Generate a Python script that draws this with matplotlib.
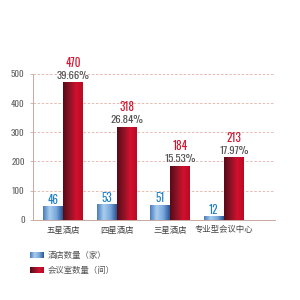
import numpy as np
import matplotlib
matplotlib.use("Agg")
import matplotlib.pyplot as plt
from matplotlib.colors import LinearSegmentedColormap

categories = ["五星酒店", "四星酒店", "三星酒店", "专业型会议中心"]
hotels = [46, 53, 51, 12]
rooms = [470, 318, 184, 213]
room_pct = ["39.66%", "26.84%", "15.53%", "17.97%"]
yticks = [0, 100, 200, 300, 400, 500]
legend_labels = ["酒店数量（家）", "会议室数量（间）"]

cjk = ["Noto Sans CJK SC", "DejaVu Sans"]
num_font = ["Oswald", "DejaVu Sans"]

blue_cmap = LinearSegmentedColormap.from_list("b", ["#4a7cbc", "#a9cdee", "#7aa8dc", "#2a5595"])
red_cmap = LinearSegmentedColormap.from_list("r", ["#5a0a18", "#8c1326", "#d2102e", "#b80a26"])

fig = plt.figure(figsize=(3, 3), dpi=100)
ax = fig.add_axes([0.11, 0.267, 0.807, 0.487])

grad = np.linspace(0, 1, 64).reshape(1, -1)
w = 0.37
x = np.arange(len(categories))
for i in range(len(categories)):
    xb = x[i] - w / 2 - 0.005
    xr = x[i] + w / 2
    ax.imshow(grad, extent=[xb - w / 2, xb + w / 2, 0, hotels[i]], aspect="auto",
              cmap=blue_cmap, zorder=3, interpolation="bilinear")
    ax.imshow(grad, extent=[xr - w / 2, xr + w / 2, 0, rooms[i]], aspect="auto",
              cmap=red_cmap, zorder=3, interpolation="bilinear")
    ax.annotate(str(hotels[i]), (xb, hotels[i]), xytext=(0, 6.5), textcoords="offset pixels",
                ha="center", va="center", color="#1f7fc4", fontsize=8, family=num_font,
                fontweight="medium", annotation_clip=False)
    ax.annotate(room_pct[i], (xr, rooms[i]), xytext=(0, 7), textcoords="offset pixels",
                ha="center", va="center", color="#555555", fontsize=7.8, family=num_font,
                fontweight="light", annotation_clip=False)
    ax.annotate(str(rooms[i]), (xr, rooms[i]), xytext=(0, 20), textcoords="offset pixels",
                ha="center", va="center", color="#d0142e", fontsize=8, family=num_font,
                fontweight="medium", annotation_clip=False)

ax.set_xlim(-0.56, 3.95)
ax.set_ylim(0, 500)
ax.set_yticks(yticks)
ax.set_yticklabels([str(v) for v in yticks], family=num_font, fontsize=6.5, color="#666666",
                   fontweight="light")
ax.set_xticks(x)
ax.set_xticklabels(categories, family=cjk, fontsize=6, color="#444444")
ax.tick_params(axis="x", length=0, pad=4)
ax.tick_params(axis="y", length=2, width=0.6, color="#c9a9a0", pad=4)
for yv in yticks[1:]:
    ax.axhline(yv, color="#e2b2aa", lw=0.6, ls=(0, (3, 2)), zorder=1)
for s in ["top", "right"]:
    ax.spines[s].set_visible(False)
for s in ["left", "bottom"]:
    ax.spines[s].set_color("#c9a9a0")
    ax.spines[s].set_linewidth(0.7)

# legend
lx, ly = 30 / 300, 1 - 255 / 300
for k, (lab, cm) in enumerate(zip(legend_labels, [blue_cmap, red_cmap])):
    y0 = ly - k * 15 / 300
    lax = fig.add_axes([lx, y0 - 3 / 300, 14 / 300, 6 / 300])
    lax.imshow(grad, aspect="auto", cmap=cm, interpolation="bilinear")
    lax.axis("off")
    fig.text(lx + 18 / 300, y0, lab, family=cjk, fontsize=6, color="#555555", va="center")

fig.savefig("out.png", dpi=100, facecolor="white")
